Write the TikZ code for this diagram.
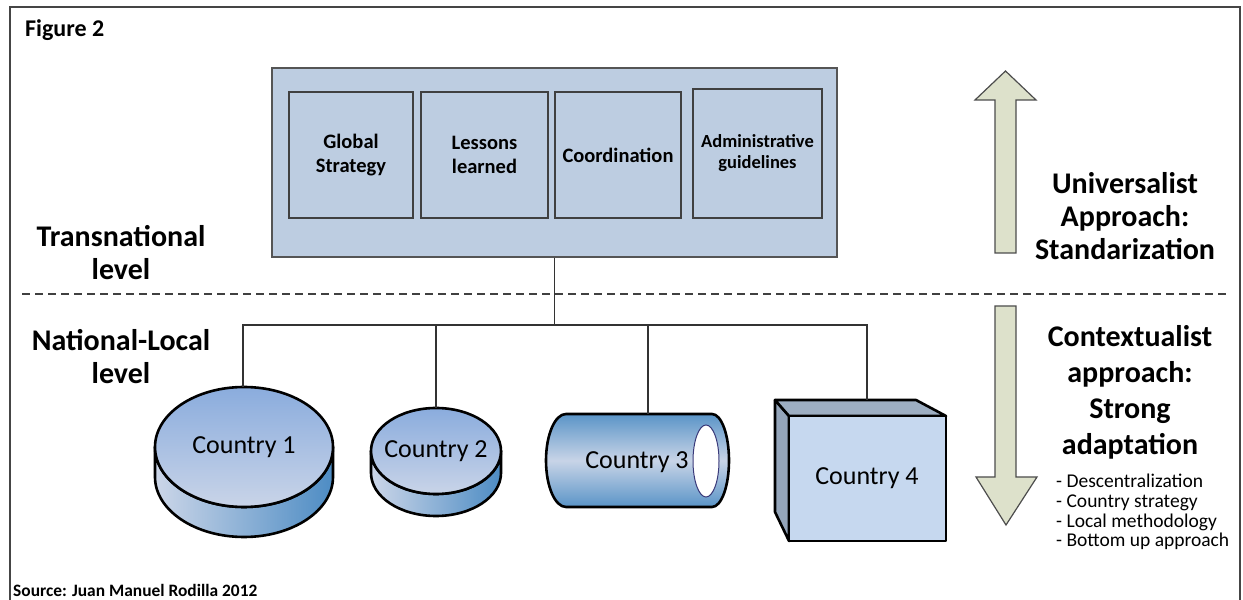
\documentclass[tikz,border=0pt]{standalone}
\usepackage{fontspec}
\setmainfont{Carlito}
\usepackage{tikz}
\usetikzlibrary{positioning, calc}
\definecolor{figframe}{HTML}{454545}
\definecolor{figglobalfill}{HTML}{BDCDE1}
\definecolor{figglobaldraw}{HTML}{555555}
\definecolor{figtopT}{HTML}{8AACDD}
\definecolor{figtopB}{HTML}{C9D4E8}
\definecolor{figsideL}{HTML}{CCD6E8}
\definecolor{figsideR}{HTML}{4D8CC4}
\definecolor{figtubeE}{HTML}{5A94C7}
\definecolor{figtubeM}{HTML}{C8D4E7}
\definecolor{figholeline}{HTML}{3A3A7A}
\definecolor{figboxfront}{HTML}{C6D8EF}
\definecolor{figboxtop}{HTML}{9DAEC2}
\definecolor{figboxleft}{HTML}{94A5BA}
\definecolor{figarrowfill}{HTML}{DDE1CB}

\begin{document}
\begin{tikzpicture}[
  x=1pt, y=1pt,
  figlabel/.style={
    align=center, inner sep=0pt, font=\fontsize{30}{33}\selectfont\bfseries,
  },
  figsmall/.style={
    inner sep=0pt, font=\fontsize{17.4}{20}\selectfont\bfseries,
  },
  figitem/.style={
    rectangle, draw=black!75, line width=1.2pt, fill=figglobalfill,
    minimum height=126pt, align=center, inner sep=2pt,
    font=\fontsize{20.5}{24}\selectfont\bfseries,
  },
  figcountry/.style={
    inner sep=0pt, font=\fontsize{26}{30}\selectfont,
  },
  figsolid/.style={
    draw=black, line width=2.6pt, line join=round,
  },
  figlink/.style={
    draw=black!80, line width=1.2pt,
  },
  figbigarrow/.style={
    draw=black!70, line width=1.2pt, fill=figarrowfill,
  },
]
\useasboundingbox (0,0) rectangle (1243,600);
\draw[figframe, line width=1.6pt] (10,0) -- (10,593) -- (1240,593) -- (1240,0);

\node[figsmall, anchor=base west, font=\fontsize{24}{28}\selectfont\bfseries] (figtitle) at (25,563) {Figure 2};
\node[figsmall, anchor=base west] (figsource) at (13,3) {Source: Juan Manuel Rodilla 2012};

% transnational level
\node[rectangle, draw=figglobaldraw, line width=1.4pt, fill=figglobalfill,
  minimum width=565pt, minimum height=189pt] (figglobal) at (554.5,437.5) {};
\node[figitem, minimum width=124pt] (figstrategy) at (351,445) {Global\\Strategy};
\node[figitem, minimum width=127pt] (figlessons) at (484.5,445) {Lessons\\learned};
\node[figitem, minimum width=126pt] (figcoord) at (618,445) {Coordination};
\node[figitem, minimum width=129pt, minimum height=129pt,
  font=\fontsize{18.5}{21}\selectfont\bfseries] (figadmin) at (757.5,446.5) {Administrative\\guidelines};

\node[figlabel] (figtrans) at (121,347) {Transnational\\level};
\node[figlabel] (fignational) at (121,243) {National-Local\\level};

\draw[black!75, line width=1.2pt, dash pattern=on 8pt off 5pt] (22,306) -- (1228,306);

% countries
\shadedraw[figsolid, left color=figsideL, right color=figsideR]
  (155,153) -- (155,123) arc[start angle=180, end angle=360, x radius=89, y radius=60]
  -- (333,153) arc[start angle=360, end angle=180, x radius=89, y radius=60] -- cycle;
\shadedraw[figsolid, top color=figtopT, bottom color=figtopB]
  (244,153) ellipse[x radius=89, y radius=60];
\node[figcountry] (figc1) at (244,153) {Country 1};
\coordinate (figc1top) at (243,213);

\shadedraw[figsolid, left color=figsideL, right color=figsideR]
  (371,149) -- (371,127) arc[start angle=180, end angle=360, x radius=65, y radius=43]
  -- (501,149) arc[start angle=360, end angle=180, x radius=65, y radius=43] -- cycle;
\shadedraw[figsolid, top color=figtopT, bottom color=figtopB]
  (436,149) ellipse[x radius=65, y radius=43];
\node[figcountry] (figc2) at (436,149) {Country 2};
\coordinate (figc2top) at (436,192);

\shadedraw[figsolid, top color=figtubeE, bottom color=figtubeE, middle color=figtubeM]
  (566,186) -- (712,186) arc[start angle=90, end angle=-90, x radius=17, y radius=46.5]
  -- (566,93) arc[start angle=270, end angle=90, x radius=20, y radius=46.5] -- cycle;
\filldraw[fill=white, draw=figholeline, line width=1pt] (706,139) ellipse[x radius=13, y radius=36];
\node[figcountry] (figc3) at (637,138) {Country 3};
\coordinate (figc3top) at (648,186);

\filldraw[figsolid, fill=figboxleft] (775,200) -- (789,184) -- (789,59) -- (775,88) -- cycle;
\filldraw[figsolid, fill=figboxtop] (775,200) -- (916,200) -- (946,184) -- (789,184) -- cycle;
\filldraw[figsolid, fill=figboxfront] (789,184) rectangle (946,59);
\node[figcountry] (figc4) at (867,122) {Country 4};
\coordinate (figc4top) at (867,200);

% links
\coordinate (figbusL) at (243,275);
\coordinate (figbusR) at (867,275);
\draw[figlink] (figglobal.south) -- (figglobal.south |- figbusL);
\draw[figlink] (figc1top) -- (figbusL) -- (figbusR) -- (figc4top);
\draw[figlink] (figc2top |- figbusL) -- (figc2top);
\draw[figlink] (figc3top |- figbusL) -- (figc3top);

% approaches
\filldraw[figbigarrow] (995,347) -- (995,500) -- (975,500) -- (1005.5,529) -- (1036,500)
  -- (1016,500) -- (1016,347) -- cycle;
\filldraw[figbigarrow] (995,294) -- (995,123) -- (976,123) -- (1006,75) -- (1037,123)
  -- (1016,123) -- (1016,294) -- cycle;
\node[figlabel] (figuniversal) at (1125,384) {Universalist\\Approach:\\Standarization};
\node[figlabel, font=\fontsize{30}{36}\selectfont\bfseries] (figcontext) at (1130,208)
  {Contextualist\\approach:\\Strong\\adaptation};
\node[anchor=north west, align=left, inner sep=0pt, font=\fontsize{19.5}{19.7}\selectfont]
  (figlist) at (1056,126) {- Descentralization\\- Country strategy\\- Local methodology\\- Bottom up approach};
\end{tikzpicture}
\end{document}
